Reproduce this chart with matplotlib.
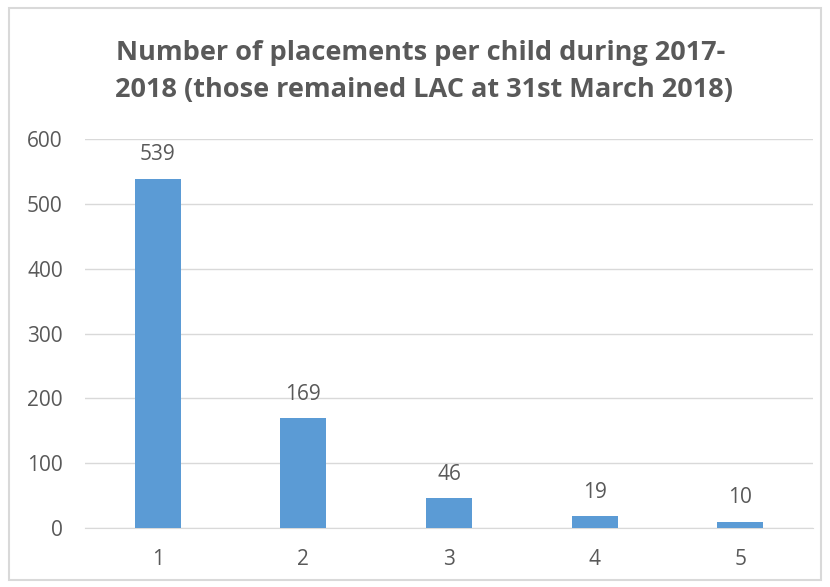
import matplotlib
matplotlib.use("Agg")
import matplotlib.pyplot as plt
from matplotlib.patches import Rectangle

categories = ["1", "2", "3", "4", "5"]
values = [539, 169, 46, 19, 10]
yticks = [0, 100, 200, 300, 400, 500, 600]
title_lines = ["Number of placements per child during 2017-",
               "2018 (those remained LAC at 31st March 2018)"]

plt.rcParams['font.family'] = ['Open Sans', 'DejaVu Sans']
gray = "#595959"

fig = plt.figure(figsize=(8.30, 5.87), dpi=100)
fig.patch.set_facecolor("white")
fig.patches.append(Rectangle((9/830, 1 - 580/587), (821-9)/830, (580-8)/587,
                             transform=fig.transFigure, fill=False,
                             edgecolor="#d9d9d9", linewidth=1.5))

ax = fig.add_axes([85/830, 1 - 528/587, (813-85)/830, (528-139)/587])
x = list(range(len(categories)))
bars = ax.bar(x, values, width=0.316, color="#5B9BD5", zorder=3)
for xi, v in zip(x, values):
    ax.annotate(str(v), (xi, v), xytext=(0, 13), textcoords="offset points",
                ha="center", va="baseline", fontsize=15, color=gray)

ax.set_xlim(-0.5, len(categories) - 0.5)
ax.set_ylim(0, 600)
ax.set_yticks(yticks)
ax.set_xticks(x)
ax.set_xticklabels(categories)
ax.yaxis.grid(True, color="#d9d9d9", linewidth=1, zorder=0)
ax.set_axisbelow(True)
for s in ["top", "right", "left"]:
    ax.spines[s].set_visible(False)
ax.spines["bottom"].set_color("#d9d9d9")
ax.tick_params(axis="both", length=0, labelsize=15, colors=gray)
ax.tick_params(axis="y", pad=16)
ax.tick_params(axis="x", pad=15)

fig.text(421/830, 1 - 60/587, title_lines[0], ha="center", va="baseline",
         fontsize=19.5, fontweight="bold", color=gray)
fig.text(424/830, 1 - 97/587, title_lines[1], ha="center", va="baseline",
         fontsize=19.5, fontweight="bold", color=gray)

fig.savefig("out.png", dpi=100)
